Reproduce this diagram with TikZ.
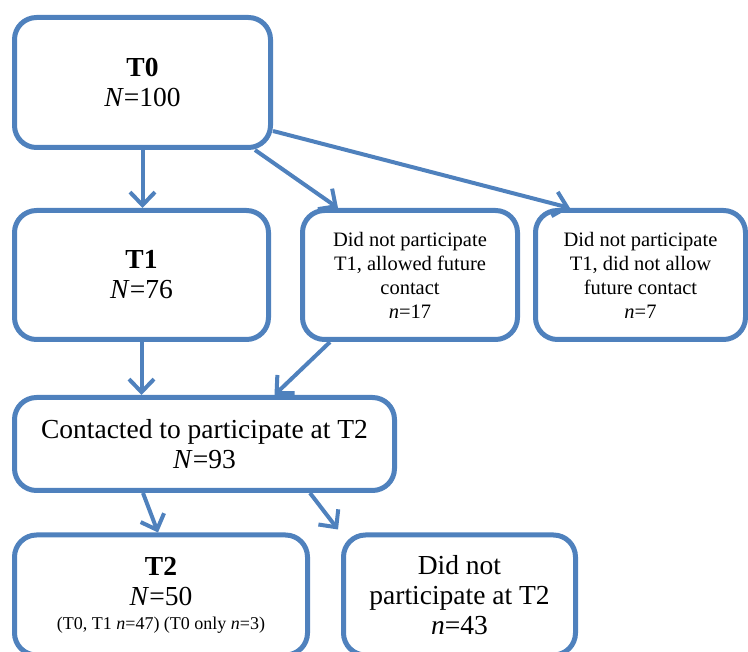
\documentclass[tikz,border=0pt]{standalone}
\usepackage{fontspec}
\setmainfont{Liberation Serif}
\usetikzlibrary{arrows.meta}
\definecolor{flowblue}{RGB}{79,129,189}
\tikzset{
  stage/.style={draw=flowblue, line width=5pt, rounded corners=22pt, align=center,
    inner sep=0pt, font=\fontsize{27.5}{30}\selectfont},
  drop/.style={stage, font=\fontsize{20.5}{24}\selectfont},
  flow/.style={draw=flowblue, line width=4pt, -{Straight Barb[length=13pt,width=25pt]}}
}
\begin{document}
\begin{tikzpicture}[x=1pt,y=-1pt]
  \useasboundingbox (0,0) rectangle (748,652);
  % boxes
  \node[stage, minimum width=256pt, minimum height=130pt] (t0) at (142.5,82.5)
    {\textbf{T0}\\\textit{N}=100};
  \node[stage, minimum width=254pt, minimum height=129pt] (t1) at (141.5,275)
    {\textbf{T1}\\\textit{N}=76};
  \node[drop, minimum width=215pt, minimum height=129pt] (allowed) at (410,275)
    {Did not participate\\T1, allowed future\\contact\\\textit{n}=17};
  \node[drop, minimum width=210pt, minimum height=129pt] (notallowed) at (640.5,275)
    {Did not participate\\T1, did not allow\\future contact\\\textit{n}=7};
  \node[stage, minimum width=380pt, minimum height=93pt] (contact) at (204.5,444)
    {Contacted to participate at T2\\\textit{N}=93};
  \node[stage, minimum width=293pt, minimum height=120pt] (t2) at (161,595)
    {\textbf{T2}\\\textit{N}=50\\[-6pt]{\fontsize{18}{20}\selectfont (T0, T1 \textit{n}=47) (T0 only \textit{n}=3)}};
  \node[stage, minimum width=232pt, minimum height=120pt] (dnp) at (459.5,595)
    {Did not\\participate at T2\\\textit{n}=43};
  % arrows
  \draw[flow] (t0.south) -- (t0.south |- t1.north);
  \draw[flow] ([xshift=-18pt]t0.south east) -- ([xshift=38pt]allowed.north west);
  \draw[flow] ([yshift=19pt]t0.south east) -- ([xshift=37pt]notallowed.north west);
  \draw[flow] (t1.south) -- (t1.south |- contact.north);
  \draw[flow] ([xshift=30pt]allowed.south west) -- ([xshift=70pt]contact.north);
  \draw[flow] ([xshift=131pt]contact.south west) -- ([xshift=146pt]t2.north west);
  \draw[flow] ([xshift=-87pt]contact.south east) -- ([xshift=-3pt,yshift=3pt]dnp.north west);
\end{tikzpicture}
\end{document}
